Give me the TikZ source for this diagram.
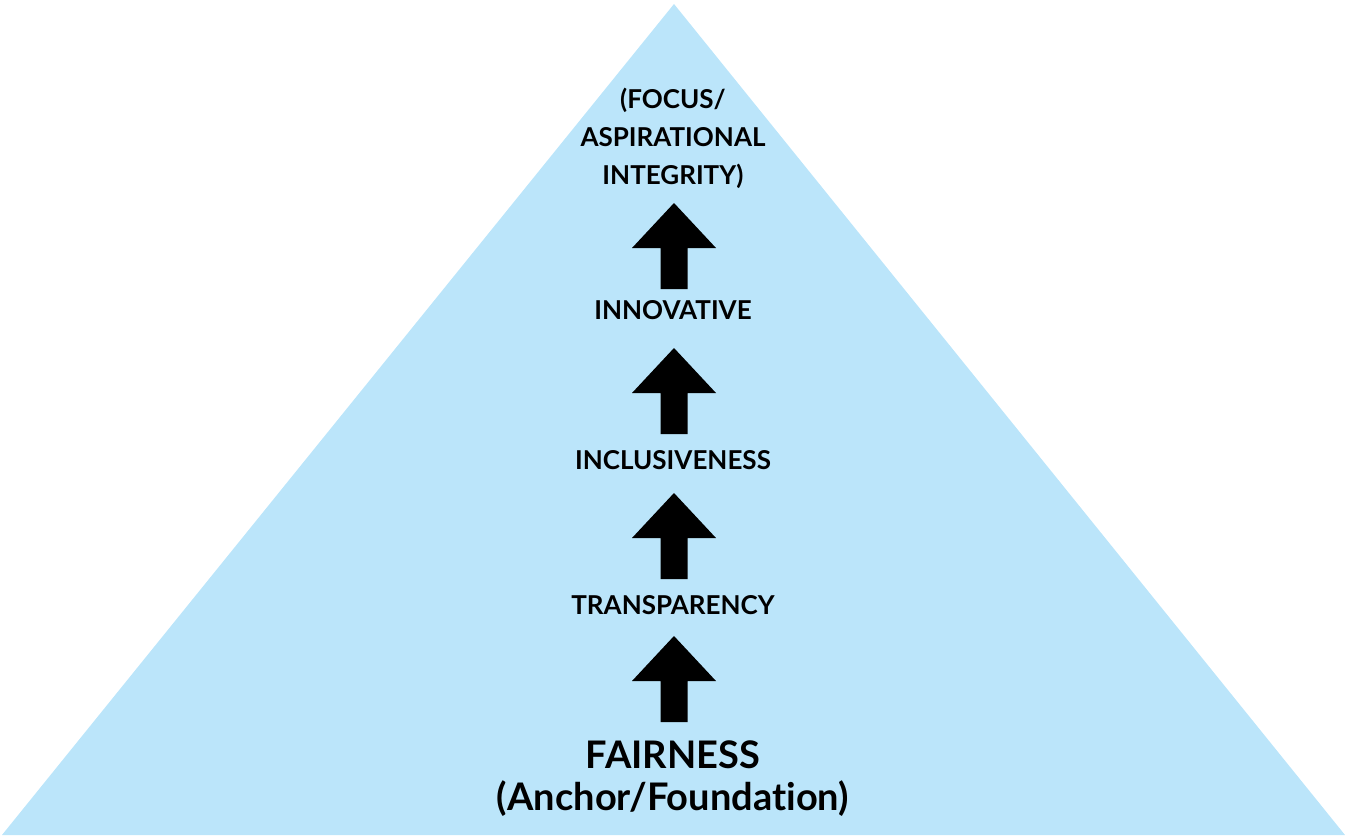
\documentclass[tikz,border=0pt]{standalone}
\usepackage{fontspec}
\setmainfont{Lato}[Ligatures={NoCommon}]
\definecolor{pyr}{RGB}{187,229,250}
\tikzset{
  x=1pt, y=-1pt,
  lbl/.style={font=\bfseries\fontsize{26}{38}\selectfont, align=center, inner sep=0pt},
  biglbl/.style={font=\bfseries\fontsize{38}{42}\selectfont, align=center, inner sep=0pt},
  pics/uparrow/.style={code={
    \fill[black] (0,0) -- (42,45) -- (13.5,45) -- (13.5,86) -- (-13.5,86) -- (-13.5,45) -- (-42,45) -- cycle;
  }}
}
\begin{document}
\begin{tikzpicture}
\useasboundingbox (0,0) rectangle (1345,836);
\fill[pyr] (674,4) -- (1345,835) -- (2,835) -- cycle;
\node[lbl] (top) at (673,138) {(FOCUS/\\ASPIRATIONAL\\INTEGRITY)};
\pic (a1) at (674,203) {uparrow};
\node[lbl] (inn) at (673,310) {INNOVATIVE};
\pic (a2) at (674,348) {uparrow};
\node[lbl] (inc) at (673,460) {INCLUSIVENESS};
\pic (a3) at (674,493) {uparrow};
\node[lbl] (tra) at (673,605) {TRANSPARENCY};
\pic (a4) at (674,636) {uparrow};
\node[biglbl] (fai) at (673,779) {FAIRNESS\\(Anchor/Foundation)};
\end{tikzpicture}
\end{document}
